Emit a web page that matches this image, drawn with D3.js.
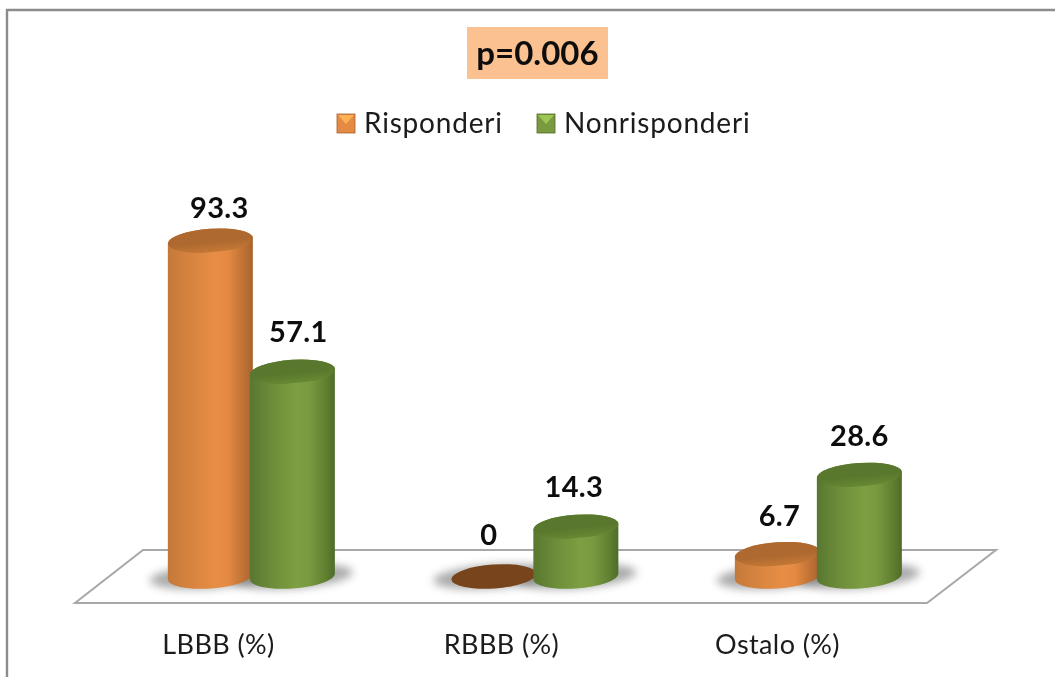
<!doctype html>
<html>
<head>
<meta charset="UTF-8">
<title>Risponderi / Nonrisponderi</title>
<script src="https://d3js.org/d3.v7.min.js"></script>
<style>
  html, body { margin: 0; padding: 0; background: #fff; }
  svg { display: block; }
  text { font-family: Lato, "Open Sans", sans-serif; fill: #111; filter: url(#soft); }
  .value { font-size: 29px; font-weight: 700; text-anchor: middle; letter-spacing: 0.3px; }
  .axis text { font-size: 27px; fill: #1a1a1a; letter-spacing: 0.4px; }
  .legend text { font-size: 28px; fill: #1a1a1a; letter-spacing: 0.8px; }
</style>
</head>
<body>
<svg id="chart" width="1055" height="677"></svg>
<script>
var categories = ["LBBB (%)", "RBBB (%)", "Ostalo (%)"];
var seriesNames = ["Risponderi", "Nonrisponderi"];
var risponderi = [93.3, 0, 6.7];
var nonrisponderi = [57.1, 14.3, 28.6];
var pLabel = "p=0.006";

var svg = d3.select("#chart"),
    defs = svg.append("defs");

// x: one band per category, a second band for the two cylinders inside it
var x = d3.scaleBand().domain(categories).range([109.6, 960.1]),
    xInner = d3.scaleBand().domain(seriesNames).range([-82, 82]),
    y = d3.scaleLinear().domain([0, 93.3]).range([578.5, 240.8]),
    labelX = d3.scaleOrdinal().domain(categories).range([218, 501, 777]);

var look = {
  "Risponderi": {side: ["#c47939", "#d68340", "#e78d45", "#e58a43", "#bd7034", "#a86230"], top: "#ad692f", rim: "#e8964f", flat: "#78441b"},
  "Nonrisponderi": {side: ["#587730", "#6c8c39", "#7e9e42", "#7a9a40", "#5f7f31", "#4f6c28"], top: "#5a782d", rim: "#84a549", flat: "#5a782d"}
};

// the cylinder ends are tilted ellipses, the foot sits a bit above the zero of the value scale
var rx = 42.6, ry = 12, tilt = -4, footLift = 2;
var rad = tilt * Math.PI / 180,
    halfW = Math.sqrt(rx * rx * Math.cos(rad) * Math.cos(rad) + ry * ry * Math.sin(rad) * Math.sin(rad)),
    edgeDy = (rx * rx - ry * ry) * Math.sin(rad) * Math.cos(rad) / halfW;

seriesNames.forEach(function(name, i) {
  var grad = defs.append("linearGradient").attr("id", "side" + i);
  look[name].side.forEach(function(c, j) {
    grad.append("stop").attr("offset", [0, 0.25, 0.55, 0.7, 0.9, 1][j]).attr("stop-color", c);
  });
  var top = defs.append("linearGradient").attr("id", "top" + i)
    .attr("x1", 0.45).attr("y1", 0).attr("x2", 0.55).attr("y2", 1);
  top.append("stop").attr("offset", 0.55).attr("stop-color", look[name].top);
  top.append("stop").attr("offset", 0.95).attr("stop-color", d3.color(look[name].top).brighter(0.35));
  top.append("stop").attr("offset", 1).attr("stop-color", look[name].rim);
});
defs.append("filter").attr("id", "blur").attr("x", "-30%").attr("y", "-80%").attr("width", "160%").attr("height", "260%")
  .append("feGaussianBlur").attr("stdDeviation", 4.5);
defs.append("filter").attr("id", "soft").attr("x", "-5%").attr("y", "-10%").attr("width", "110%").attr("height", "120%")
  .append("feGaussianBlur").attr("stdDeviation", 0.4);

// outer frame, only left and top fall inside the picture
svg.append("path")
  .attr("d", "M7,677V10H1055")
  .attr("fill", "none").attr("stroke", "#8c8c8c").attr("stroke-width", 2.4);

// p value box
svg.append("rect").attr("x", 467).attr("y", 27).attr("width", 141).attr("height", 52).attr("fill", "#fbc190");
svg.append("text").attr("x", 537.5).attr("y", 65)
  .attr("text-anchor", "middle").style("font-size", "33px").style("font-weight", 700).text(pLabel);

// legend
var legend = svg.append("g").attr("class", "legend");
var legendX = d3.scaleOrdinal().domain(seriesNames).range([337, 537]);
var item = legend.selectAll("g").data(seriesNames).enter().append("g")
  .attr("transform", function(d) { return "translate(" + legendX(d) + ",114)"; });
item.append("rect").attr("width", 18).attr("height", 19)
  .attr("fill", function(d) { return look[d].side[3]; })
  .attr("stroke", function(d) { return look[d].side[5]; }).attr("stroke-width", 0.8);
item.append("path").attr("d", "M1,1H17L9,10Z")
  .attr("fill", function(d) { return d3.color(look[d].side[3]).brighter(0.7); });
item.append("text").attr("x", 27).attr("y", 19).text(function(d) { return d; });

// floor
svg.append("path")
  .attr("d", "M75,603H927L996,550H143Z")
  .attr("fill", "#fff").attr("stroke", "#a8a8a8").attr("stroke-width", 2);

// flatten to one row per cylinder
var rows = [];
categories.forEach(function(c, i) {
  rows.push({cat: c, name: seriesNames[0], idx: 0, value: risponderi[i]});
  rows.push({cat: c, name: seriesNames[1], idx: 1, value: nonrisponderi[i]});
});
function cx(d) { return x(d.cat) + x.bandwidth() / 2 + xInner(d.name) + xInner.bandwidth() / 2; }
function topY(d) { return d.value > 0 ? y(d.value) : y(0) - footLift; }

svg.append("g").selectAll("ellipse").data(rows).enter().append("ellipse")
  .attr("rx", rx + 18).attr("ry", ry)
  .attr("transform", function(d) { return "translate(" + cx(d) + "," + (y(0) - footLift) + ") rotate(" + tilt + ")"; })
  .attr("fill", "#6e6e6e").attr("opacity", 0.58)
  .attr("filter", "url(#blur)");

var bars = svg.append("g").selectAll("g").data(rows).enter().append("g")
  .attr("transform", function(d) { return "translate(" + cx(d) + ",0)"; });

// cylinder body: left edge down, front arc of the base, right edge up, back arc
bars.filter(function(d) { return d.value > 0; }).append("path")
  .attr("d", function(d) {
    var t = y(d.value), b = y(0) - footLift;
    return "M" + (-halfW) + "," + (t - edgeDy) +
      "L" + (-halfW) + "," + (b - edgeDy) +
      "A" + rx + "," + ry + " " + tilt + " 0 0 " + halfW + "," + (b + edgeDy) +
      "L" + halfW + "," + (t + edgeDy) +
      "A" + rx + "," + ry + " " + tilt + " 0 0 " + (-halfW) + "," + (t - edgeDy) + "Z";
  })
  .attr("fill", function(d) { return "url(#side" + d.idx + ")"; });

bars.append("ellipse")
  .attr("rx", rx).attr("ry", ry)
  .attr("transform", function(d) { return "translate(0," + topY(d) + ") rotate(" + tilt + ")"; })
  .attr("fill", function(d) { return d.value > 0 ? "url(#top" + d.idx + ")" : look[d.name].flat; });

// value labels sit a little off the cylinder centre in the picture
var labelNudge = {"Risponderi|LBBB (%)": [9, 6], "Nonrisponderi|LBBB (%)": [6, -1], "Risponderi|RBBB (%)": [-5, -5],
  "Nonrisponderi|RBBB (%)": [-2, -1], "Risponderi|Ostalo (%)": [2, 1], "Nonrisponderi|Ostalo (%)": [0, 0]};
svg.append("g").selectAll("text").data(rows).enter().append("text")
  .attr("class", "value")
  .attr("x", function(d) { return cx(d) + labelNudge[d.name + "|" + d.cat][0]; })
  .attr("y", function(d) { return y(d.value) - 29 + labelNudge[d.name + "|" + d.cat][1]; })
  .text(function(d) { return d.value; });

// category labels
var axis = svg.append("g").attr("class", "axis")
  .attr("transform", "translate(0,628)")
  .call(d3.axisBottom(labelX).tickSize(0).tickPadding(7));
axis.select(".domain").remove();
axis.selectAll("text").attr("dy", "0.71em");
</script>
</body>
</html>
